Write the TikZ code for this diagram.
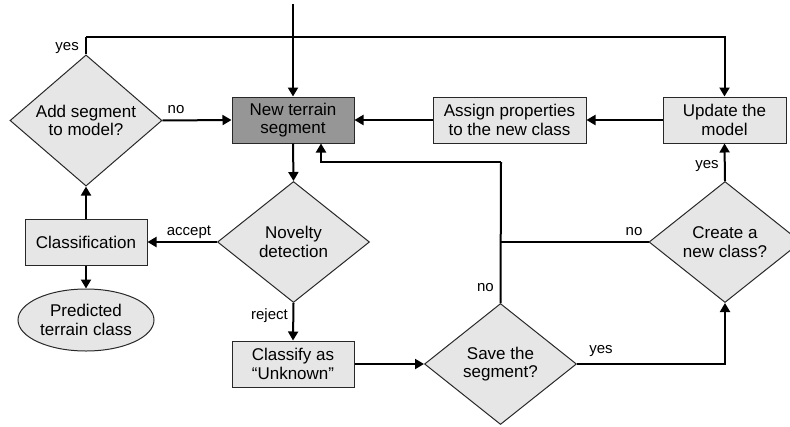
\documentclass[tikz,border=0pt]{standalone}
\usepackage{fontspec}
\setmainfont{Liberation Sans}
\usetikzlibrary{shapes.geometric,arrows.meta}
\definecolor{boxfill}{RGB}{230,230,230}
\definecolor{startfill}{RGB}{150,150,150}
\definecolor{edge}{RGB}{40,40,40}

\begin{document}
\begin{tikzpicture}[x=1pt,y=-1pt,
  txt/.style={align=center, font=\fontsize{17}{18.5}\selectfont, inner sep=0pt},
  box/.style={txt, draw=edge, line width=1pt, fill=boxfill, minimum width=122pt, minimum height=46pt},
  decision/.style={txt, diamond, draw=edge, line width=1pt, fill=boxfill, minimum width=152pt, minimum height=121pt},
  terminal/.style={txt, ellipse, draw=edge, line width=1pt, fill=boxfill, minimum width=136pt, minimum height=62pt},
  link/.style={line width=2pt, draw=black},
  conn/.style={link, -{Triangle[length=9pt,width=10pt]}},
  lbl/.style={font=\fontsize{15}{16}\selectfont, inner sep=0pt}]

\clip (0,0) rectangle (790,426);

% process steps
\node[box, fill=startfill] (nts) at (293,120) {New terrain\\segment};
\node[box, minimum width=153pt] (assign) at (509.5,120) {Assign properties\\to the new class};
\node[box, minimum width=123pt] (upd) at (724.5,120) {Update the\\model};
\node[box] (cls) at (86,242) {Classification};
\node[box] (unk) at (293,364) {Classify as\\“Unknown”};
\node[terminal] (pred) at (86,320) {Predicted\\terrain class};

% decisions
\node[decision] (add) at (86,120.5) {Add segment\\to model?};
\node[decision] (nov) at (293.5,242) {Novelty\\detection};
\node[decision] (save) at (500.5,364) {Save the\\segment?};
\node[decision] (crt) at (725,242) {Create a\\new class?};

% helper points
\coordinate (entry) at (293,4);
\coordinate (yesup) at (86,37);
\coordinate (nojoin) at (501,162);
\coordinate (nomerge) at (501,242);

% connectors
\draw[conn] (entry) -- (nts.north);
\draw[conn] (add.east) -- (nts.west);
\draw[link] (add.north) -- (yesup);
\draw[conn] (yesup) -| (upd.north);
\draw[conn] (upd.west) -- (assign.east);
\draw[conn] (assign.west) -- (nts.east);
\draw[conn] (nts.south) -- (nov.north);
\draw[conn] (nov.west) -- (cls.east);
\draw[conn] (cls.north) -- (add.south);
\draw[conn] (cls.south) -- (pred.north);
\draw[conn] (nov.south) -- (unk.north);
\draw[conn] (unk.east) -- (save.west);
\draw[link] (save.north) -- (nojoin);
\draw[conn] (nojoin) -| ([xshift=28pt]nts.south);
\draw[link] (crt.west) -- (nomerge);
\draw[conn] (save.east) -| (crt.south);
\draw[conn] (crt.north) -- (upd.south);

% branch labels
\node[lbl] (lno1) at (176,110) {no};
\node[lbl, anchor=east] (lyes1) at (79,48) {yes};
\node[lbl] (lacc) at (189,232) {accept};
\node[lbl, anchor=east] (lrej) at (288,316) {reject};
\node[lbl, anchor=east] (lno2) at (494,288) {no};
\node[lbl] (lno3) at (634,232) {no};
\node[lbl] (lyes2) at (601,351) {yes};
\node[lbl] (lyes3) at (707,166) {yes};
\end{tikzpicture}
\end{document}
